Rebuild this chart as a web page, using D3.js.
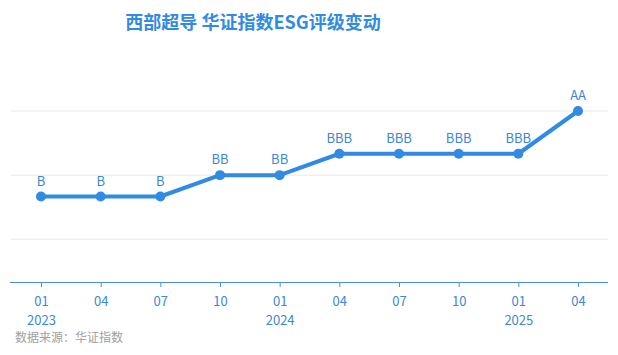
<!DOCTYPE html>
<html>
<head>
<meta charset="utf-8">
<script src="https://cdn.jsdelivr.net/npm/d3@7"></script>
<style>
  body { margin: 0; background: #fff; }
  text { font-family: "Noto Sans CJK SC", "Noto Sans", sans-serif; }
</style>
</head>
<body>
<svg id="chart" width="618" height="355"></svg>
<script>
var months = ["01", "04", "07", "10", "01", "04", "07", "10", "01", "04"]
var years = ["2023", "", "", "", "2024", "", "", "", "2025", ""]
var ratings = ["B", "B", "B", "BB", "BB", "BBB", "BBB", "BBB", "BBB", "AA"]
var ratingScale = ["", "C", "CC", "CCC", "B", "BB", "BBB", "A", "AA"]
var gridTicks = [2, 5, 8]

var blue = '#318ae3'
var svg = d3.select('#chart')

var x = d3.scalePoint()
  .domain(d3.range(months.length))
  .range([41, 578])

var y = d3.scaleLinear()
  .domain([0, 8])
  .range([282, 111])

// title
svg.append("text")
  .attr("x", 253)
  .attr("y", 29)
  .attr("text-anchor", "middle")
  .style("font-size", "18px")
  .style("font-weight", "bold")
  .style("fill", blue)
  .text("西部超导 华证指数ESG评级变动")

// grid
svg.append("g").selectAll("line")
  .data(gridTicks)
  .enter().append("line")
  .attr("x1", 11).attr("x2", 608)
  .attr("y1", d => y(d)).attr("y2", d => y(d))
  .style("stroke", "#f0f0f0")
  .style("stroke-width", 1.5)

// x axis
var axis = d3.axisBottom(x)
  .tickSize(5)
  .tickFormat(i => months[i])
var gx = svg.append("g")
  .attr("transform", "translate(0," + y(0) + ")")
  .call(axis)
gx.select(".domain").attr("d", "M10,0.5H608").style("stroke", "#4a90d9")
gx.selectAll(".tick line").style("stroke", "#4a90d9")
gx.selectAll(".tick text")
  .attr("y", 15)
  .style("font-size", "13px")
  .style("fill", "#3d87d3")
  .style("font-family", "Noto Sans CJK SC")
gx.selectAll(".tick").append("text")
  .attr("y", 34)
  .attr("dy", "0.71em")
  .attr("text-anchor", "middle")
  .style("font-size", "13px")
  .style("fill", "#3d87d3")
  .text(i => years[i])

// line
var line = d3.line()
  .x((d, i) => x(i))
  .y(d => y(ratingScale.indexOf(d)))

svg.append("path")
  .datum(ratings)
  .attr("d", line)
  .style("fill", "none")
  .style("stroke", blue)
  .style("stroke-width", 4)
  .style("stroke-linejoin", "round")

svg.append("g").selectAll("circle")
  .data(ratings)
  .enter().append("circle")
  .attr("cx", (d, i) => x(i))
  .attr("cy", d => y(ratingScale.indexOf(d)))
  .attr("r", 5)
  .style("fill", blue)

svg.append("g").selectAll("text")
  .data(ratings)
  .enter().append("text")
  .attr("x", (d, i) => x(i))
  .attr("y", d => y(ratingScale.indexOf(d)) - 11)
  .attr("text-anchor", "middle")
  .style("font-size", "13px")
  .style("fill", "#3d87d3")
  .text(d => d)

// source
svg.append("text")
  .attr("x", 15)
  .attr("y", 342)
  .style("font-size", "12px")
  .style("fill", "#a0a0a0")
  .text("数据来源：华证指数")
</script>
</body>
</html>
